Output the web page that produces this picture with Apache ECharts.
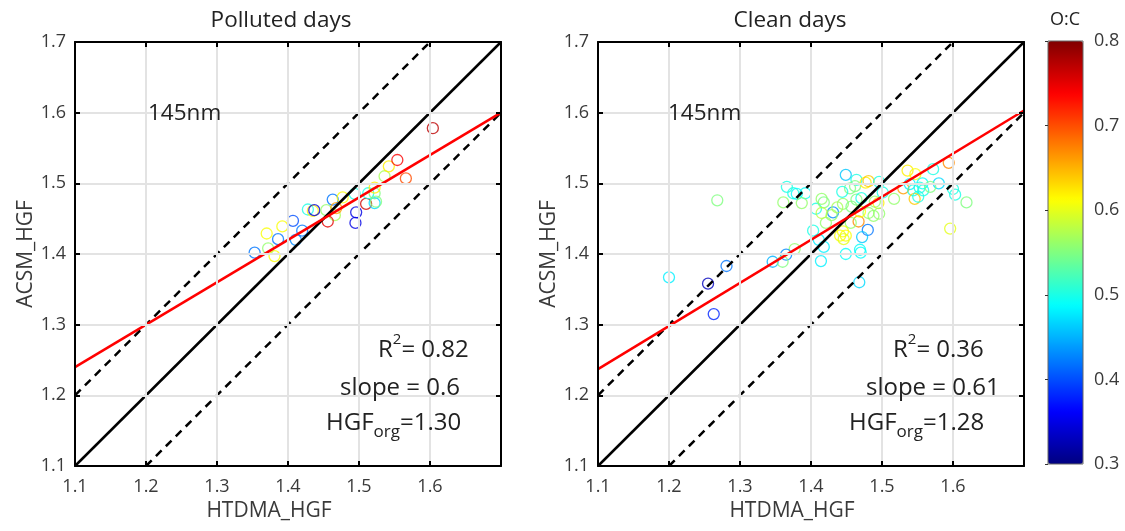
<!DOCTYPE html>
<html><head><meta charset="utf-8">
<script src="https://cdn.jsdelivr.net/npm/echarts@6/dist/echarts.min.js"></script>
<style>html,body{margin:0;padding:0;background:#fff}#c{width:1125px;height:531px}</style>
</head><body><div id="c"></div>
<script>
// ---------- data ----------
const axisTickLabels = ['1.1','1.2','1.3','1.4','1.5','1.6','1.7'];
const ocTickLabels = ['0.3','0.4','0.5','0.6','0.7','0.8'];

// Polluted days (HTDMA_HGF, ACSM_HGF, O:C)
const pollutedX = [1.353,1.372,1.370,1.381,1.386,1.392,1.407,1.411,1.420,1.428,1.435,1.437,1.454,1.463,1.466,1.468,1.456,1.477,1.494,1.496,1.495,1.510,1.513,1.522,1.522,1.524,1.522,1.536,1.542,1.554,1.566,1.604];
const pollutedY = [1.402,1.408,1.429,1.397,1.421,1.439,1.447,1.420,1.433,1.463,1.461,1.462,1.462,1.477,1.455,1.465,1.446,1.480,1.485,1.459,1.444,1.471,1.486,1.486,1.472,1.474,1.494,1.510,1.524,1.533,1.507,1.578];
const pollutedOC = [0.42,0.56,0.61,0.61,0.42,0.61,0.40,0.43,0.42,0.50,0.62,0.34,0.56,0.42,0.57,0.66,0.75,0.61,0.50,0.35,0.35,0.76,0.50,0.55,0.47,0.55,0.62,0.57,0.62,0.74,0.70,0.77];

// Clean days
const cleanX = [1.200,1.268,1.255,1.281,1.263,1.346,1.366,1.375,1.380,1.392,1.361,1.387,1.407,1.415,1.418,1.431,1.429,1.421,1.403,1.411,1.418,1.414,1.377,1.365,1.360,1.449,1.464,1.455,1.462,1.477,1.445,1.457,1.464,1.471,1.467,1.456,1.480,1.472,1.445,1.441,1.449,1.446,1.449,1.469,1.470,1.468,1.481,1.496,1.495,1.501,1.517,1.481,1.469,1.488,1.496,1.536,1.547,1.572,1.594,1.539,1.557,1.580,1.553,1.530,1.544,1.558,1.546,1.551,1.600,1.603,1.619,1.596,1.568,1.444,1.490,1.415,1.437];
const cleanY = [1.367,1.476,1.358,1.383,1.315,1.389,1.495,1.486,1.485,1.486,1.473,1.472,1.464,1.478,1.473,1.459,1.455,1.444,1.433,1.420,1.410,1.390,1.407,1.399,1.389,1.512,1.505,1.493,1.496,1.501,1.471,1.467,1.477,1.479,1.446,1.444,1.434,1.424,1.432,1.426,1.426,1.421,1.400,1.406,1.402,1.360,1.503,1.502,1.472,1.487,1.478,1.458,1.460,1.454,1.457,1.518,1.513,1.520,1.529,1.499,1.500,1.500,1.494,1.493,1.490,1.490,1.478,1.481,1.492,1.484,1.473,1.436,1.495,1.488,1.474,1.458,1.466];
const cleanOC = [0.48,0.55,0.33,0.42,0.38,0.45,0.50,0.50,0.49,0.49,0.56,0.56,0.50,0.56,0.55,0.43,0.56,0.56,0.50,0.48,0.48,0.48,0.56,0.43,0.55,0.46,0.50,0.55,0.55,0.62,0.56,0.55,0.55,0.50,0.67,0.56,0.42,0.46,0.61,0.61,0.61,0.60,0.49,0.49,0.49,0.47,0.64,0.50,0.62,0.50,0.56,0.56,0.61,0.56,0.56,0.62,0.61,0.50,0.67,0.48,0.49,0.47,0.50,0.66,0.50,0.50,0.64,0.50,0.50,0.50,0.55,0.60,0.55,0.50,0.56,0.58,0.57];

// reference lines (x, y endpoints)
const oneToOne   = [[1.1,1.1],[1.7,1.7]];
const upperDash  = [[1.1,1.2],[1.6,1.7]];
const lowerDash  = [[1.2,1.1],[1.7,1.6]];
const pollutedFit = [[1.1,1.24],[1.7,1.60]];
const cleanFit    = [[1.1,1.237],[1.7,1.603]];

// ---------- helpers ----------
const FF = '"Open Sans", "Noto Sans", sans-serif';
const jetStops = ['#000080','#0000ff','#0080ff','#00ffff','#80ff80','#ffff00','#ff8000','#ff0000','#800000'];
function jet(v){
  const t=(v-0.3)/0.5;
  const c=x=>Math.round(255*Math.max(0,Math.min(1,x)));
  return 'rgb('+c(1.5-Math.abs(4*t-3))+','+c(1.5-Math.abs(4*t-2))+','+c(1.5-Math.abs(4*t-1))+')';
}
function pts(xs,ys,oc){
  return xs.map((x,i)=>({value:[x,ys[i],oc[i]], itemStyle:{borderColor:jet(oc[i])}}));
}
const labelColor = '#3a3a3a';
const TICK = 18;
function xAxes(gi){
  return [
    {gridIndex:gi,type:'value',min:1.1,max:1.7,interval:0.1,position:'bottom',
     axisLine:{show:true,onZero:false,lineStyle:{color:'#000',width:2}},
     axisTick:{show:true,inside:true,length:5,lineStyle:{color:'#000',width:2}},
     axisLabel:{color:labelColor,fontSize:TICK,fontFamily:FF,margin:12,
       formatter:v=>{const i=Math.round((v-1.1)*10);return i>=6?'':axisTickLabels[i];}},
     splitLine:{show:true,lineStyle:{color:'#e3e3e3',width:2}},
     name:'HTDMA_HGF',nameLocation:'middle',nameGap:35,
     nameTextStyle:{color:labelColor,fontSize:21,fontFamily:FF,padding:[0,38,0,0]}, z:5},
    {gridIndex:gi,type:'value',min:1.1,max:1.7,interval:0.1,position:'top',
     axisLine:{show:true,onZero:false,lineStyle:{color:'#000',width:2}},
     axisTick:{show:true,inside:true,length:5,lineStyle:{color:'#000',width:2}},
     axisLabel:{show:false},splitLine:{show:false}, z:5}
  ];
}
function yAxes(gi){
  return [
    {gridIndex:gi,type:'value',min:1.1,max:1.7,interval:0.1,position:'left',
     axisLine:{show:true,onZero:false,lineStyle:{color:'#000',width:2}},
     axisTick:{show:true,inside:true,length:5,lineStyle:{color:'#000',width:2}},
     axisLabel:{color:labelColor,fontSize:TICK,fontFamily:FF,margin:9,
       formatter:v=>axisTickLabels[Math.round((v-1.1)*10)]},
     splitLine:{show:true,lineStyle:{color:'#e3e3e3',width:2}},
     name:'ACSM_HGF',nameLocation:'middle',nameGap:36,
     nameTextStyle:{color:labelColor,fontSize:21,fontFamily:FF}, z:5},
    {gridIndex:gi,type:'value',min:1.1,max:1.7,interval:0.1,position:'right',
     axisLine:{show:true,onZero:false,lineStyle:{color:'#000',width:2}},
     axisTick:{show:true,inside:true,length:5,lineStyle:{color:'#000',width:2}},
     axisLabel:{show:false},splitLine:{show:false}, z:5}
  ];
}
function line(data,xi,yi,color,type){
  return {type:'line',xAxisIndex:xi,yAxisIndex:yi,data:data,symbol:'none',silent:true,z:4,
    lineStyle:{color:color,width:2.5,type:type||'solid'},animation:false};
}
function scatter(data,xi,yi){
  return {type:'scatter',xAxisIndex:xi,yAxisIndex:yi,data:data,symbol:'circle',symbolSize:11,z:3,
    itemStyle:{color:'rgba(0,0,0,0)',borderWidth:1.3},animation:false};
}
const rich = {
  s:{fontSize:15,fontFamily:FF,fill:'#222',verticalAlign:'top',lineHeight:15},
  o:{fontSize:17,fontFamily:FF,fill:'#222',verticalAlign:'bottom',lineHeight:17}
};
function txt(x,y,text,size,align){
  return {type:'text',x:x,y:y,z:20,style:{text:text,fontSize:size,fontFamily:FF,fill:'#222',
    align:align||'left',verticalAlign:'middle',lineHeight:36,rich:rich}};
}

const chart = echarts.init(document.getElementById('c'),null,{renderer:'canvas'});
chart.setOption({
  backgroundColor:'#fff',
  animation:false,
  grid:[
    {left:75,top:42,width:426,height:424,containLabel:false},
    {left:598,top:42,width:426,height:424,containLabel:false},
    {left:1048,top:41,width:35,height:423,show:true,borderColor:'#666',borderWidth:1,z:6}
  ],
  xAxis:[...xAxes(0),...xAxes(1),{gridIndex:2,type:'value',show:false}],
  yAxis:[...yAxes(0),...yAxes(1),
    {gridIndex:2,type:'value',min:0.3,max:0.8,interval:0.1,position:'right',z:10,
     axisLine:{show:false},
     axisTick:{show:true,inside:true,length:3,lineStyle:{color:'#333',width:1}},
     axisLabel:{color:labelColor,fontSize:TICK,fontFamily:FF,margin:11,
       formatter:v=>ocTickLabels[Math.round((v-0.3)*10)]},
     splitLine:{show:false}}],
  visualMap:{type:'continuous',min:0.3,max:0.8,dimension:2,seriesIndex:10,
    left:1048,top:41,itemWidth:35,itemHeight:423,padding:0,calculable:false,
    text:null,showLabel:false,hoverLink:false,inRange:{color:jetStops}},
  series:[
    scatter(pts(pollutedX,pollutedY,pollutedOC),0,0),
    line(oneToOne,0,0,'#000'),
    line(upperDash,0,0,'#000',[8,6]),
    line(lowerDash,0,0,'#000',[8,6]),
    line(pollutedFit,0,0,'#ff0000'),
    scatter(pts(cleanX,cleanY,cleanOC),2,2),
    line(oneToOne,2,2,'#000'),
    line(upperDash,2,2,'#000',[8,6]),
    line(lowerDash,2,2,'#000',[8,6]),
    line(cleanFit,2,2,'#ff0000'),
    {type:'scatter',xAxisIndex:4,yAxisIndex:4,data:[]}
  ],
  graphic:[
    txt(281,21,'Polluted days',22.5,'center'),
    txt(790,21,'Clean days',22.5,'center'),
    txt(1065,20,'O:C',18,'center'),
    txt(148,114,'145nm',22.5),
    txt(668,114,'145nm',22.5),
    txt(378,350,'R{s|2}= 0.82',24),
    txt(340,388,'slope = 0.6',24),
    txt(326,423,'HGF{o|org}=1.30',24),
    txt(893,350,'R{s|2}= 0.36',24),
    txt(866,388,'slope = 0.61',24),
    txt(849,423,'HGF{o|org}=1.28',24)
  ]
});
</script></body></html>
